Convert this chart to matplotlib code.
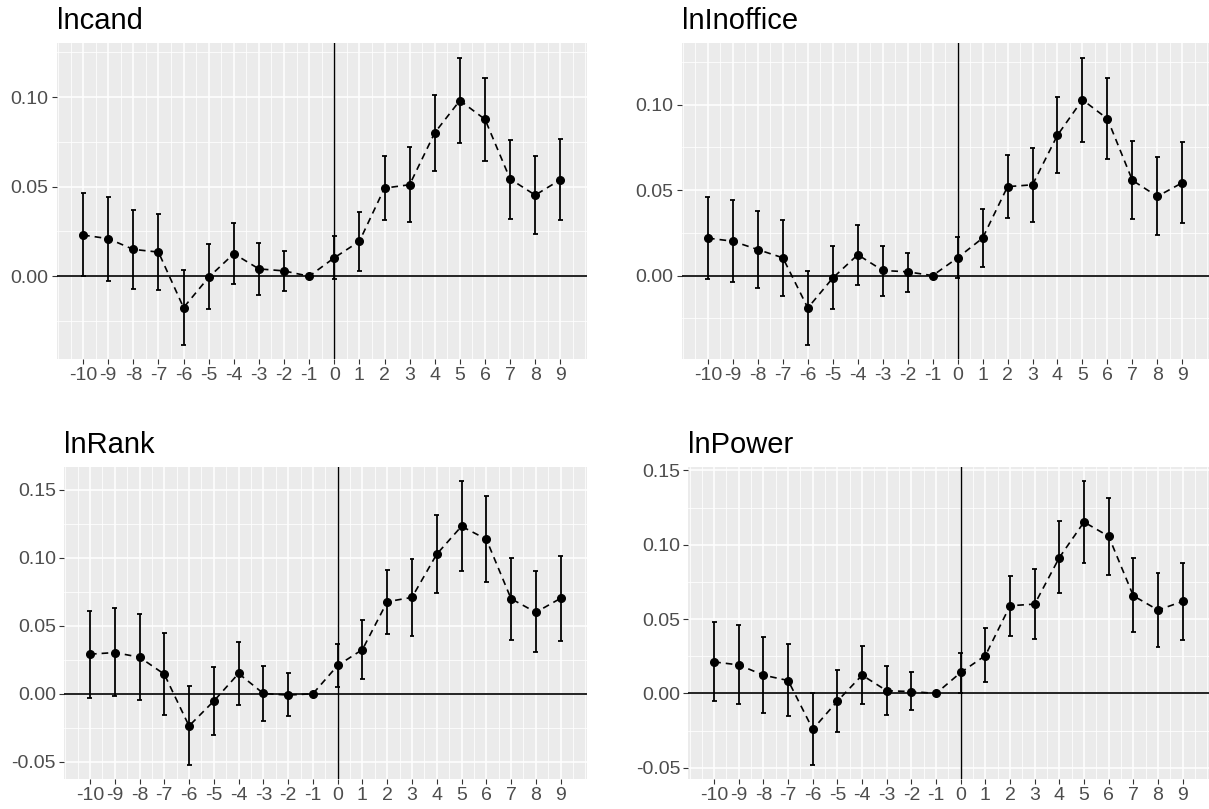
import numpy as np
import matplotlib
matplotlib.use("Agg")
import matplotlib.pyplot as plt
from matplotlib.ticker import MultipleLocator, FixedLocator

plt.rcParams["font.family"] = ["Liberation Sans", "DejaVu Sans"]
plt.rcParams["axes.unicode_minus"] = False

# event time (years relative to treatment)
event_time = list(range(-10, 10))

# lncand
cand_est = [0.023, 0.021, 0.015, 0.0135, -0.0175, -0.0006, 0.0126, 0.0041, 0.003, 0.0,
            0.0103, 0.0195, 0.0492, 0.0511, 0.0801, 0.0981, 0.0876, 0.0543, 0.0453, 0.0539]
cand_lo = [0.000, -0.0028, -0.0071, -0.0077, -0.0382, -0.0184, -0.0045, -0.0105, -0.0085, 0.0,
           -0.0015, 0.0032, 0.0312, 0.0303, 0.0586, 0.0742, 0.0643, 0.0321, 0.0235, 0.0312]
cand_hi = [0.0462, 0.0442, 0.0372, 0.0348, 0.0034, 0.0182, 0.0299, 0.0188, 0.0141, 0.0,
           0.0224, 0.0359, 0.0671, 0.0720, 0.1011, 0.1220, 0.1109, 0.0763, 0.0669, 0.0769]

# lnInoffice
office_est = [0.0219, 0.0201, 0.0152, 0.0104, -0.0189, -0.0014, 0.0122, 0.003, 0.0022, 0.0,
              0.0104, 0.0219, 0.052, 0.0531, 0.0821, 0.1028, 0.0917, 0.0557, 0.0463, 0.0543]
office_lo = [-0.002, -0.0039, -0.0075, -0.0118, -0.0404, -0.0197, -0.0053, -0.0122, -0.0094, 0.0,
             -0.0014, 0.0053, 0.0339, 0.0315, 0.0598, 0.078, 0.0679, 0.0333, 0.024, 0.0309]
office_hi = [0.0459, 0.0441, 0.038, 0.0323, 0.0024, 0.0173, 0.0297, 0.0175, 0.0134, 0.0,
             0.0228, 0.0388, 0.0707, 0.0748, 0.1043, 0.1274, 0.1157, 0.0785, 0.0693, 0.078]

# lnRank
rank_est = [0.0291, 0.0303, 0.0269, 0.0144, -0.0237, -0.0054, 0.0149, 0.0002, -0.001, 0.0,
            0.0208, 0.0325, 0.0677, 0.0709, 0.1027, 0.1232, 0.1137, 0.0699, 0.0599, 0.0702]
rank_lo = [-0.0032, -0.002, -0.0046, -0.0154, -0.0523, -0.0303, -0.0083, -0.0198, -0.0164, 0.0,
           0.0051, 0.0112, 0.0438, 0.0428, 0.0741, 0.09, 0.0819, 0.0399, 0.0306, 0.0391]
rank_hi = [0.0611, 0.0628, 0.0584, 0.0447, 0.0054, 0.0198, 0.0381, 0.0205, 0.0149, 0.0,
           0.0367, 0.054, 0.0912, 0.099, 0.1318, 0.1562, 0.1455, 0.1, 0.09, 0.1015]

# lnPower
power_est = [0.0212, 0.0192, 0.0123, 0.0087, -0.0241, -0.0051, 0.0123, 0.0018, 0.0013, 0.0,
             0.0141, 0.0255, 0.059, 0.0601, 0.0914, 0.1153, 0.1057, 0.0657, 0.0561, 0.0619]
power_lo = [-0.0054, -0.0074, -0.013, -0.0154, -0.048, -0.0261, -0.0072, -0.0145, -0.0112, 0.0,
            0.0002, 0.0074, 0.0387, 0.0364, 0.0673, 0.0878, 0.0796, 0.0411, 0.0313, 0.0362]
power_hi = [0.048, 0.0458, 0.038, 0.0335, 0.0, 0.0156, 0.0317, 0.0185, 0.0143, 0.0,
            0.0273, 0.0438, 0.0793, 0.0836, 0.1158, 0.1426, 0.1318, 0.091, 0.0809, 0.088]

titles = ["lncand", "lnInoffice", "lnRank", "lnPower"]

BG = "#EBEBEB"
TXT = "#4D4D4D"


def draw_panel(ax, title, est, lo, hi):
    x = np.array(event_time, dtype=float)
    est = np.array(est); lo = np.array(lo); hi = np.array(hi)

    ax.set_facecolor(BG)
    for s in ax.spines.values():
        s.set_visible(False)

    # ggplot-style limits: 5% of data range (x padded like the original)
    ymin = min(lo.min(), 0.0); ymax = max(hi.max(), 0.0)
    pad = 0.05 * (ymax - ymin)
    ax.set_ylim(ymin - pad, ymax + pad)
    ax.set_xlim(x.min() - 1.05, x.max() + 1.05)

    ax.xaxis.set_major_locator(FixedLocator(x))
    ax.xaxis.set_minor_locator(MultipleLocator(0.5))
    ax.yaxis.set_major_locator(MultipleLocator(0.05))
    ax.yaxis.set_minor_locator(MultipleLocator(0.025))
    ax.grid(which="major", color="white", linewidth=1.1)
    ax.grid(which="minor", color="white", linewidth=0.55)
    ax.set_axisbelow(True)

    ax.set_xticklabels([str(int(v)) for v in x])
    ax.yaxis.set_major_formatter(matplotlib.ticker.FuncFormatter(lambda v, p: f"{v:.2f}"))
    ax.tick_params(which="major", length=3.3, width=0.8, color="#333333",
                   labelsize=14, labelcolor=TXT, pad=2.5)
    ax.tick_params(which="minor", length=0)

    ax.axhline(0, color="black", linewidth=1.2, zorder=2)
    ax.axvline(0, color="black", linewidth=1.0, zorder=2)

    # error bars (caps 0.2 wide in data units)
    ax.vlines(x, lo, hi, color="black", linewidth=1.3, zorder=3)
    ax.hlines(lo, x - 0.1, x + 0.1, color="black", linewidth=1.3, zorder=3)
    ax.hlines(hi, x - 0.1, x + 0.1, color="black", linewidth=1.3, zorder=3)

    ax.plot(x, est, color="black", linestyle=(0, (4, 3)), linewidth=1.2, zorder=4)
    ax.plot(x, est, "o", color="black", markersize=5.5, zorder=5)

    ax.set_title(title, loc="left", fontsize=21, color="black", pad=10.5)


fig = plt.figure(figsize=(12.09, 8.09), dpi=100)
ax1 = fig.add_axes([0.0469, 0.5562, 0.4384, 0.3902])
ax2 = fig.add_axes([0.5639, 0.5562, 0.4357, 0.3902])
ax3 = fig.add_axes([0.0529, 0.0371, 0.4323, 0.3853])
ax4 = fig.add_axes([0.5693, 0.0371, 0.4303, 0.3853])

draw_panel(ax1, titles[0], cand_est, cand_lo, cand_hi)
draw_panel(ax2, titles[1], office_est, office_lo, office_hi)
draw_panel(ax3, titles[2], rank_est, rank_lo, rank_hi)
draw_panel(ax4, titles[3], power_est, power_lo, power_hi)

fig.savefig("out.png", dpi=100)
